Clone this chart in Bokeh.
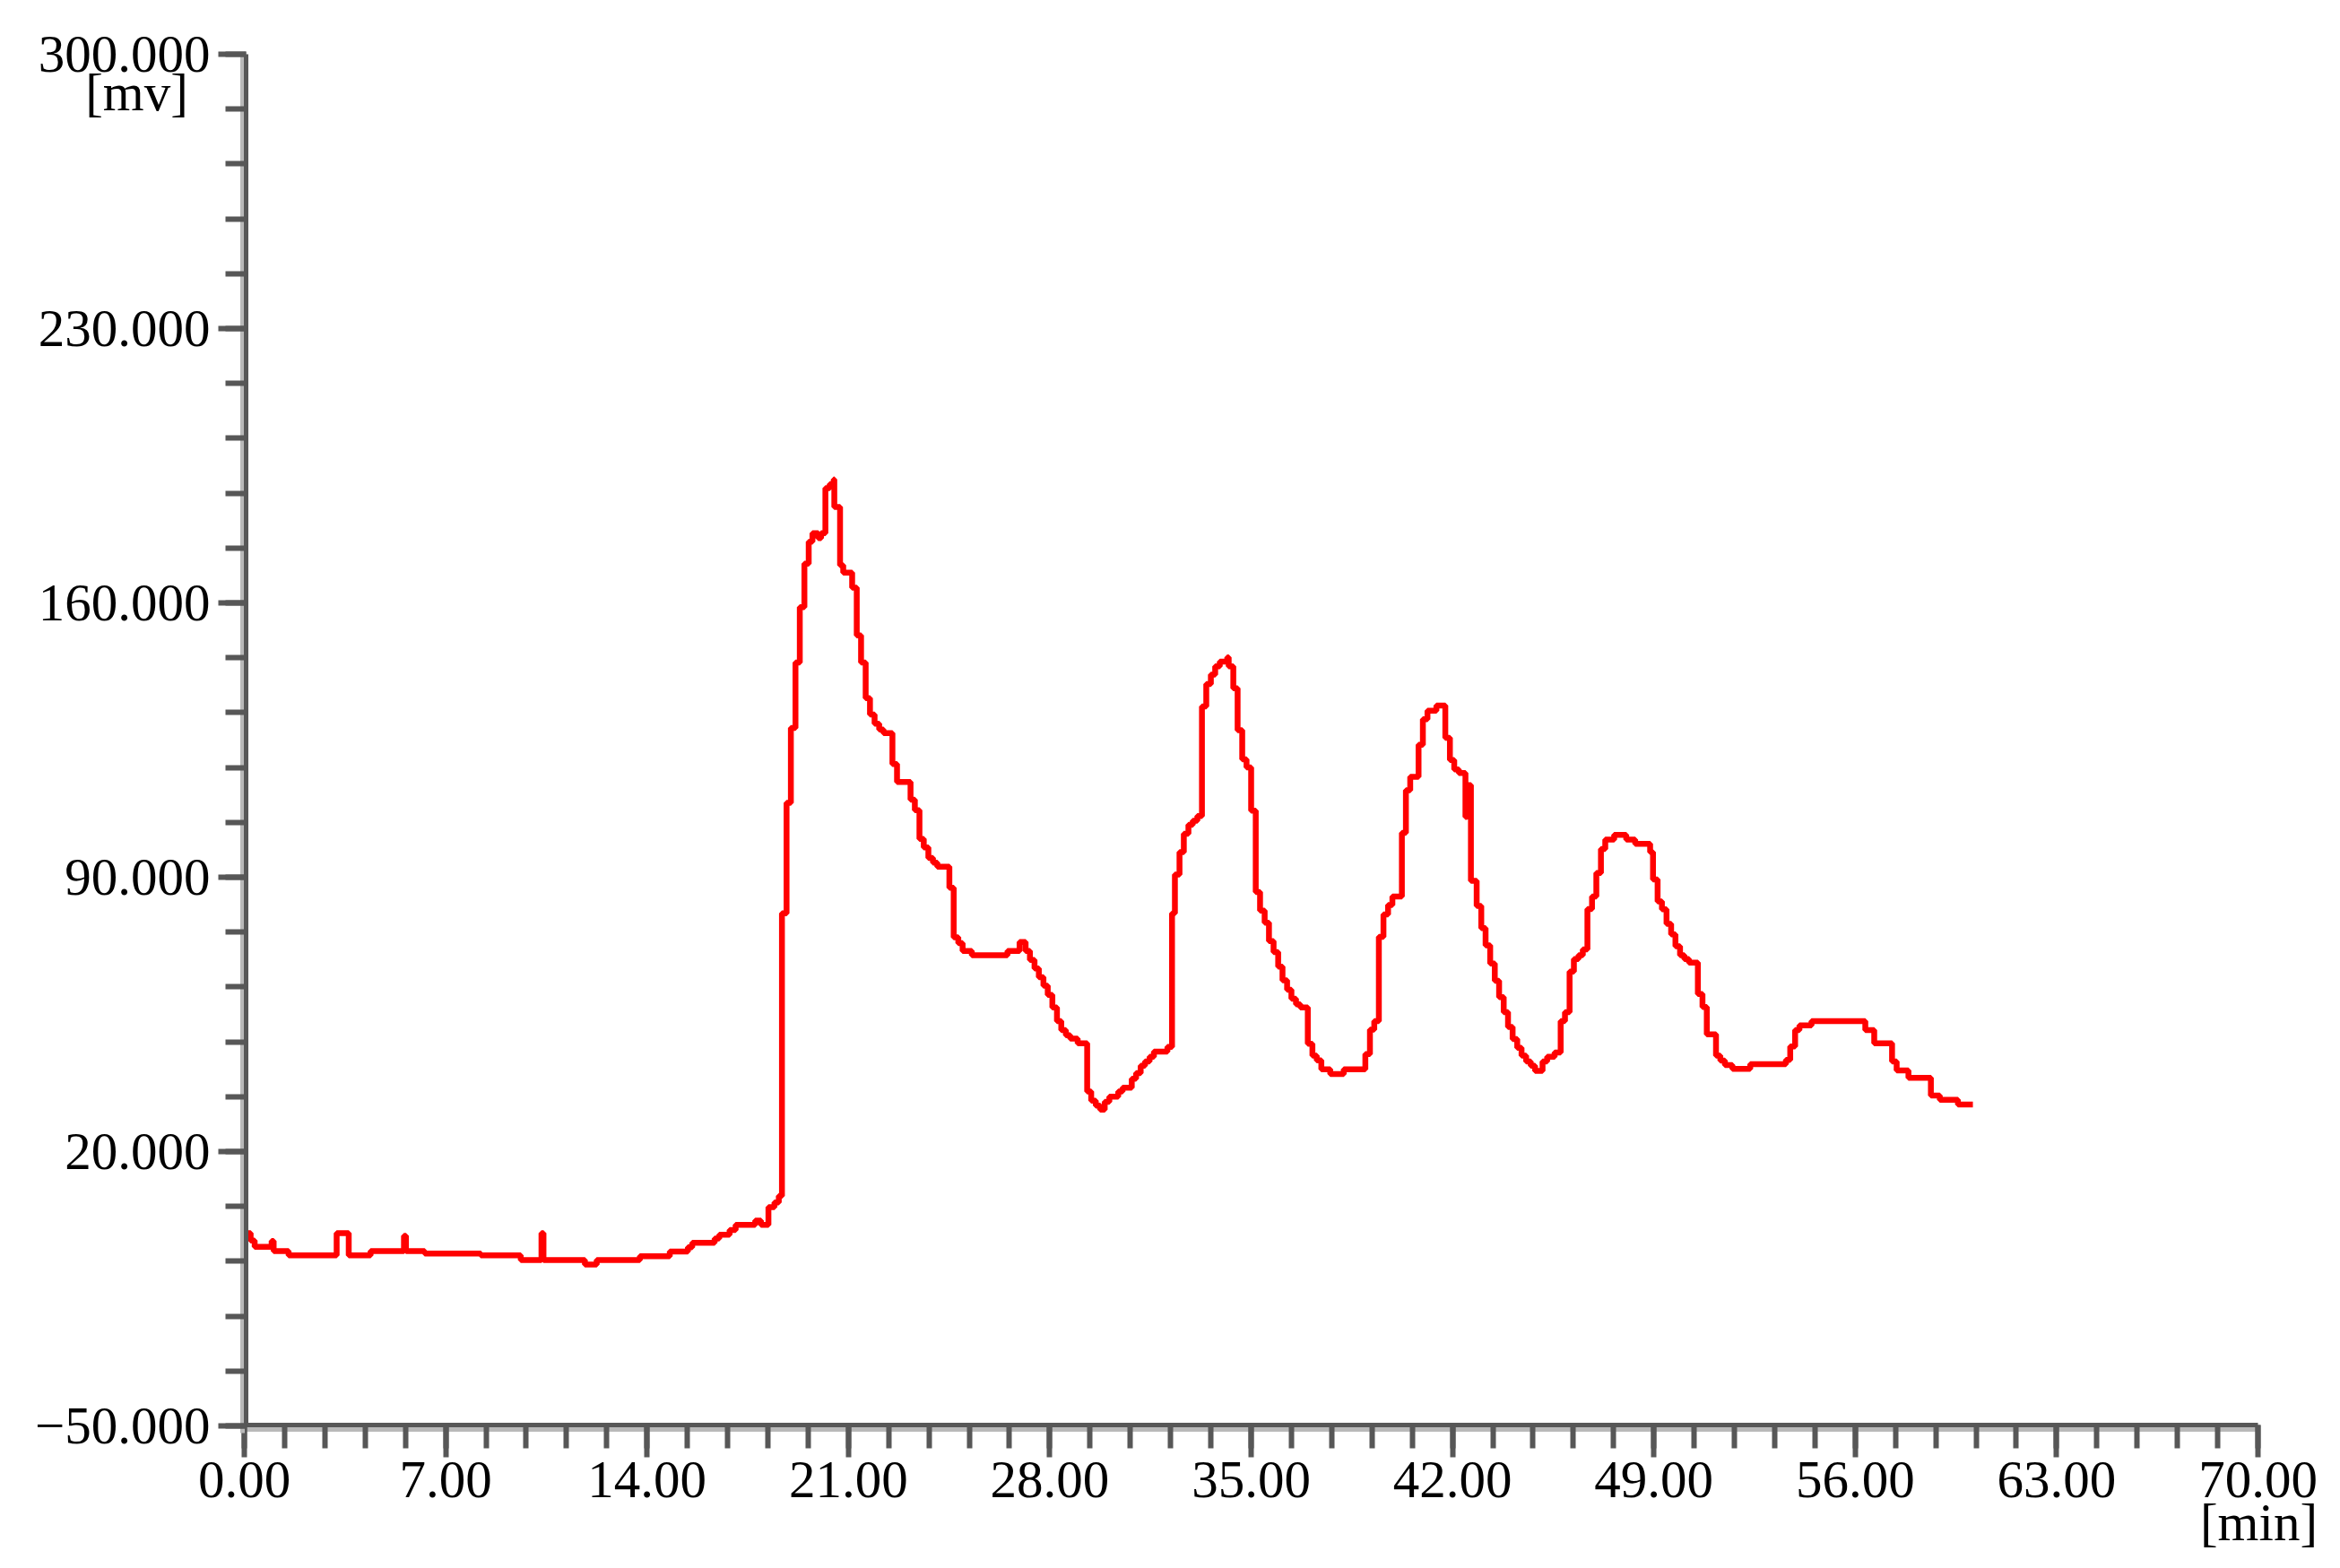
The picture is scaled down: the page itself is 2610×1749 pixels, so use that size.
from bokeh.plotting import figure
from bokeh.models import (Range1d, FixedTicker, PrintfTickFormatter, CustomJSTickFormatter,
                          Label, LinearAxis)
from bokeh.embed import file_html
from bokeh.resources import INLINE

# retention time (min) at which each level starts, and the signal level (mV)
time_min = [
    0.00, 0.22, 0.36, 0.95, 1.02, 1.54, 3.21, 3.63, 4.39, 5.55, 5.62, 6.27, 8.22, 9.61,
    10.33, 10.40, 11.84, 12.25, 13.75, 14.79, 15.42, 15.57, 16.35, 16.51, 16.87, 17.08,
    17.76, 17.96, 18.22, 18.43, 18.58, 18.69, 18.85, 19.00, 19.16, 19.31, 19.47, 19.62,
    19.75, 19.95, 20.05, 20.20, 20.35, 20.49, 20.51, 20.71, 20.82, 21.13, 21.29, 21.44,
    21.60, 21.75, 21.91, 22.07, 22.22, 22.53, 22.69, 23.16, 23.31, 23.47, 23.62, 23.78,
    23.94, 24.09, 24.51, 24.66, 24.82, 24.97, 25.29, 26.53, 26.95, 27.16, 27.31, 27.47,
    27.62, 27.78, 27.93, 28.09, 28.25, 28.40, 28.56, 28.71, 28.97, 29.30, 29.44, 29.60,
    29.75, 29.91, 30.07, 30.38, 30.53, 30.85, 31.00, 31.16, 31.31, 31.47, 31.62, 32.09,
    32.25, 32.35, 32.51, 32.66, 32.82, 32.97, 33.13, 33.29, 33.44, 33.60, 33.75, 33.91,
    34.17, 34.22, 34.38, 34.53, 34.69, 34.84, 35.00, 35.16, 35.31, 35.47, 35.62, 35.78,
    35.94, 36.09, 36.25, 36.40, 36.56, 36.71, 36.97, 37.13, 37.28, 37.44, 37.75, 38.22,
    38.97, 39.13, 39.28, 39.44, 39.60, 39.76, 39.91, 40.24, 40.38, 40.53, 40.82, 40.97,
    41.13, 41.44, 41.75, 41.91, 42.06, 42.22, 42.45, 42.50, 42.64, 42.84, 43.00, 43.15,
    43.31, 43.47, 43.62, 43.78, 43.93, 44.09, 44.25, 44.40, 44.56, 44.72, 44.87, 45.13,
    45.29, 45.55, 45.76, 45.91, 46.07, 46.22, 46.38, 46.53, 46.69, 46.85, 47.00, 47.16,
    47.31, 47.62, 48.04, 48.35, 48.87, 48.97, 49.13, 49.28, 49.44, 49.60, 49.75, 49.91,
    50.06, 50.22, 50.53, 50.69, 50.84, 51.16, 51.31, 51.47, 51.73, 52.35, 53.59, 53.74,
    53.91, 54.06, 54.48, 56.35, 56.66, 57.28, 57.44, 57.85, 58.63, 58.94, 59.57, 60.09,
]
signal_mv = [
    -0.8, -2.7, -4.3, -2.8, -5.4, -6.5, -0.8, -6.5, -5.4, -1.5, -5.4, -6.0, -6.5, -7.7,
    -0.8, -7.7, -8.8, -7.7, -6.7, -5.5, -4.4, -3.3, -2.2, -1.2, 0.0, 1.3,
    2.4, 1.3, 5.8, 7.0, 8.7, 80.8, 109.0, 128.1, 144.8, 158.9, 170.0, 175.6,
    177.8, 176.5, 177.8, 189.3, 190.3, 191.5, 184.5, 169.6, 167.7, 163.9, 151.7, 144.8,
    135.7, 131.5, 129.2, 127.7, 126.8, 118.9, 114.3, 109.8, 107.1, 99.8, 97.6, 94.9,
    93.7, 92.7, 87.3, 74.7, 73.2, 71.2, 70.1, 71.2, 73.5, 71.2, 68.9, 66.7,
    64.5, 62.3, 60.0, 56.8, 53.3, 51.0, 49.7, 48.8, 47.6, 35.3, 33.0, 31.7,
    30.7, 32.7, 34.0, 35.3, 36.3, 38.6, 40.0, 41.9, 43.0, 44.2, 45.5, 46.7,
    80.8, 90.7, 96.4, 101.1, 103.4, 104.4, 105.6, 133.6, 139.3, 141.7, 143.8, 145.0,
    146.1, 143.8, 138.2, 127.5, 120.1, 118.0, 107.0, 86.2, 81.5, 78.4, 73.7, 70.9,
    67.2, 63.7, 61.3, 59.0, 57.6, 56.8, 47.5, 44.5, 43.3, 41.0, 39.8, 41.0,
    44.9, 51.1, 53.3, 74.8, 80.5, 82.9, 85.1, 101.3, 112.2, 115.6, 123.8, 130.3,
    132.5, 133.8, 125.6, 119.9, 117.5, 116.6, 105.4, 113.5, 89.1, 82.7, 77.0, 72.6,
    68.0, 63.6, 59.4, 55.6, 51.8, 48.7, 46.5, 44.5, 43.0, 41.9, 40.6, 43.0,
    44.2, 45.3, 53.3, 55.6, 65.9, 69.1, 70.1, 71.6, 81.9, 85.1, 91.1, 97.2,
    99.6, 100.8, 99.6, 98.5, 96.4, 89.4, 83.8, 81.8, 78.1, 75.4, 72.4, 70.1,
    69.1, 68.2, 60.2, 56.9, 49.9, 44.5, 43.2, 42.1, 41.1, 42.3, 43.4, 46.8,
    51.0, 52.2, 53.3, 51.0, 47.6, 43.0, 40.7, 38.8, 34.3, 33.2, 32.0, 32.0,
]

x_major = [0, 7, 14, 21, 28, 35, 42, 49, 56, 63, 70]
x_minor = [round(i * 1.4, 2) for i in range(0, 51)]
y_major = [-50, 20, 90, 160, 230, 300]
y_minor = [-50 + 14 * i for i in range(0, 26)]
x_unit = "[min]"
y_unit = "[mv]"

FONT = "Liberation Serif"
FS = "59px"
AXC = "#575757"
SHADOW = "#b9b9b9"

# canvas geometry: the plotted box spans pixels 272..2518 (x) and 60..1590 (y)
W, H = 2594, 1733
BOX_L, BOX_R, BOX_T, BOX_B = 272, 2518, 60, 1590
X0, X1 = x_major[0], x_major[-1]
Y0, Y1 = y_major[0], y_major[-1]
sx = (BOX_R - BOX_L) / (X1 - X0)
sy = (BOX_B - BOX_T) / (Y1 - Y0)

p = figure(width=W, height=H, output_backend="svg", toolbar_location=None,
           x_axis_type=None, y_axis_type=None,
           x_range=Range1d(X0 - BOX_L / sx, X1 + (W - BOX_R) / sx),
           y_range=Range1d(Y0 - (H - BOX_B) / sy, Y1 + BOX_T / sy),
           min_border_left=0, min_border_right=0, min_border_top=0, min_border_bottom=0)
p.outline_line_color = None
p.background_fill_color = "white"
p.border_fill_color = "white"

# light "shadow" lines of the axes (drawn first, underneath)
y_shadow = LinearAxis(fixed_location=X0 - 2.5 / sx, bounds=(Y0 - 8 / sy, Y1),
                      ticker=FixedTicker(ticks=[], minor_ticks=[]),
                      axis_line_color=SHADOW, axis_line_width=5)
x_shadow = LinearAxis(fixed_location=Y0 - 3.5 / sy, bounds=(X0 - 4 / sx, X1),
                      ticker=FixedTicker(ticks=[], minor_ticks=[]),
                      axis_line_color=SHADOW, axis_line_width=5)
p.add_layout(y_shadow, "left")
p.add_layout(x_shadow, "below")

# main axes
yax = LinearAxis(fixed_location=X0 + 2 / sx, bounds=(Y0, Y1),
                 ticker=FixedTicker(ticks=y_major, minor_ticks=y_minor),
                 formatter=CustomJSTickFormatter(code="return tick.toFixed(3).replace('-', '\u2212');"))
xax = LinearAxis(fixed_location=Y0 + 1 / sy, bounds=(X0, X1),
                 ticker=FixedTicker(ticks=x_major, minor_ticks=x_minor),
                 formatter=PrintfTickFormatter(format="%.2f"))
for ax in (xax, yax):
    ax.axis_line_color = AXC
    ax.axis_line_width = 5
    ax.major_tick_line_color = AXC
    ax.major_tick_line_width = 6
    ax.minor_tick_line_color = AXC
    ax.minor_tick_line_width = 6
    ax.major_tick_in = 0
    ax.minor_tick_in = 0
    ax.major_label_text_font = FONT
    ax.major_label_text_font_size = FS
    ax.major_label_text_color = "black"
xax.major_tick_out = 36
xax.minor_tick_out = 26
xax.major_label_standoff = 5
yax.major_tick_out = 31
yax.minor_tick_out = 23
yax.major_label_standoff = 9
p.add_layout(yax, "left")
p.add_layout(xax, "below")

p.step(time_min, signal_mv, mode="after", line_color="#ff0000", line_width=6.5)

p.add_layout(Label(x=X0, y=Y1, x_offset=-120, y_offset=-42, text=y_unit,
                   text_font=FONT, text_font_size=FS, text_align="center",
                   text_baseline="middle", text_color="black"))
p.add_layout(Label(x=X1, y=Y0, x_offset=1, y_offset=-107, text=x_unit,
                   text_font=FONT, text_font_size=FS, text_align="center",
                   text_baseline="middle", text_color="black"))

open("out.html", "w").write(file_html(p, INLINE))
